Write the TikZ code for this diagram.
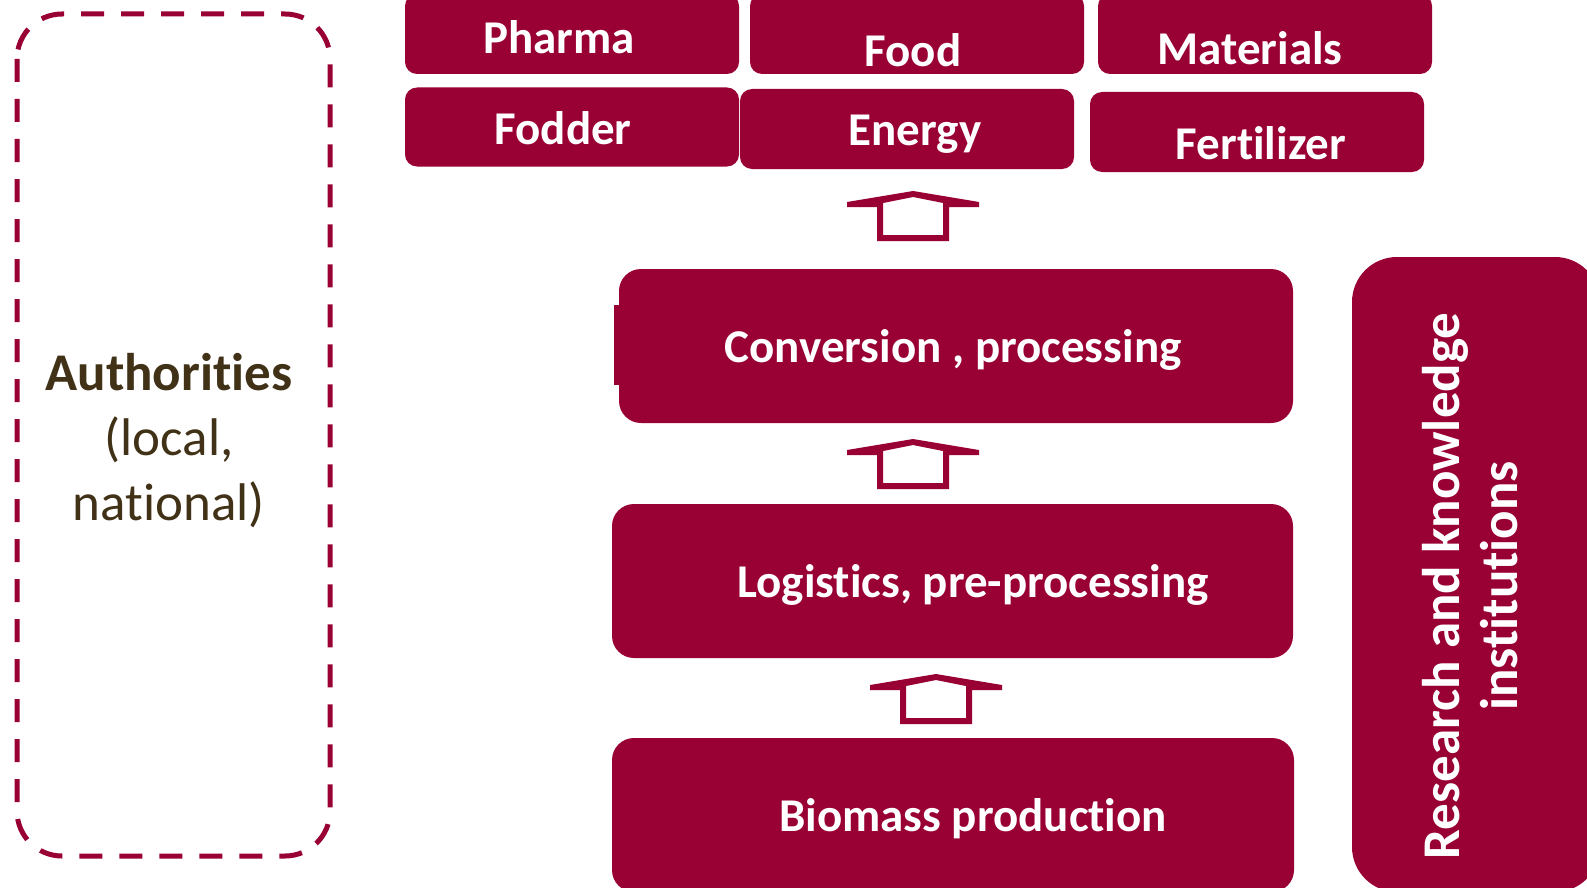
\documentclass[tikz,border=0pt]{standalone}
\usepackage{fontspec}
\setmainfont{Carlito}[RawFeature={-liga;-clig;-calt;-dlig}]
\usepackage{tikz}
\definecolor{crimson}{RGB}{153,0,51}
\definecolor{authbrown}{RGB}{64,49,23}
\tikzstyle{product} = [fill=crimson, rounded corners=12pt, inner sep=0pt, minimum width=334pt, minimum height=80pt]
\tikzstyle{stage} = [fill=crimson, rounded corners=22pt, inner sep=0pt, minimum height=154pt]
\tikzstyle{boxtext} = [text=white, font=\fontsize{47}{56}\selectfont\bfseries, anchor=base, inner sep=0pt]
\tikzstyle{authline} = [draw=crimson, line width=5pt, dash pattern=on 23pt off 17pt, rounded corners=45pt]
\newcommand{\housearrow}[2]{%
  \begin{scope}[shift={(#1,#2)}]
    \fill[crimson, even odd rule] (-36,50) -- (-36,16) -- (-66,16) -- (-66,11) -- (0,0) -- (66,11) -- (66,16) -- (36,16) -- (36,50) -- cycle
      (-30,44) -- (-30,12) -- (0,6) -- (30,12) -- (30,44) -- cycle;
  \end{scope}}

\begin{document}
\begin{tikzpicture}[x=1pt, y=-1pt]
	\useasboundingbox (0,0) rectangle (1587,888);

	% authorities
	\draw[authline] (17,14) rectangle (330,856);
	\node[text=authbrown, align=center, font=\fontsize{53}{65}\selectfont] (auth) at (169,441) {\textbf{Authorities}\\(local,\\national)};

	% products
	\node[product] (pharmabox) at (572,34) {};
	\node[product] (foodbox) at (917,34) {};
	\node[product] (matbox) at (1265,34) {};
	\node[product, minimum height=79pt] (fodderbox) at (572,127) {};
	\node[product] (energybox) at (907,129) {};
	\node[product] (fertbox) at (1257,132) {};
	\node[boxtext] (pharma) at (559,54) {Pharma};
	\node[boxtext] (food) at (913,67) {Food};
	\node[boxtext] (mat) at (1250,65) {Materials};
	\node[boxtext] (fodder) at (563,144) {Fodder};
	\node[boxtext] (energy) at (915,146) {Energy};
	\node[boxtext] (fert) at (1261,159) {Fertilizer};

	% chain
	\fill[crimson] (614,305) rectangle (624,385);
	\node[stage, minimum width=674pt] (conv) at (956,346) {};
	\node[stage, minimum width=681pt] (logi) at (952.5,581) {};
	\node[stage, minimum width=682pt] (bio) at (953,815) {};
	\node[boxtext] (convtext) at (953,362) {Conversion , processing};
	\node[boxtext] (logitext) at (973,597) {Logistics, pre-processing};
	\node[boxtext] (biotext) at (973,831) {Biomass production};
	\housearrow{913}{191}
	\housearrow{913}{439}
	\housearrow{936}{674}

	% research
	\node[fill=crimson, rounded corners=45pt, minimum width=248pt, minimum height=635pt] (research) at (1476,574.5) {};
	\node[text=white, rotate=90, align=center, font=\fontsize{53}{58}\selectfont\bfseries] (restext) at (1470,586) {Research and knowledge\\institutions};
\end{tikzpicture}
\end{document}
